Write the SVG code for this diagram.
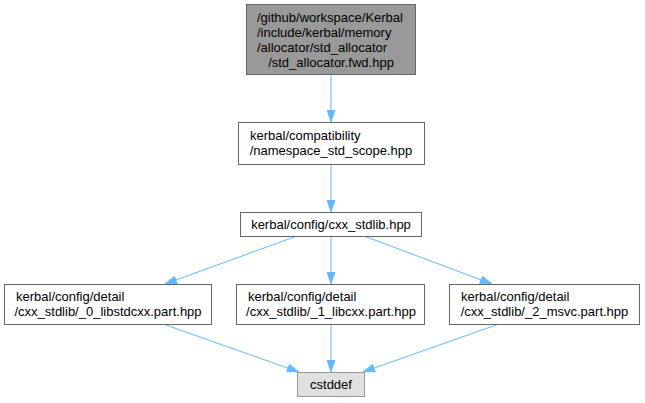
<svg xmlns="http://www.w3.org/2000/svg" width="645" height="403" viewBox="0 0 645 403">
<style>
  .node rect { fill: #ffffff; stroke: #666666; stroke-width: 1; }
  .root rect { fill: #999999; stroke: #666666; }
  .sys rect { fill: #e0e0e0; stroke: #999999; }
  text { font-family: "Liberation Sans", Arial, Helvetica, sans-serif; font-size: 13px; fill: #000000; }
  .mid { text-anchor: middle; }
  .edges line { stroke: #63b8ff; stroke-width: 1; fill: none; marker-end: url(#arrow); }
</style>
<defs>
  <marker id="arrow" viewBox="0 0 12 9" refX="12" refY="4.5" markerWidth="12" markerHeight="9" markerUnits="userSpaceOnUse" orient="auto">
    <path d="M0,0.5 L11.5,4.5 L0,8.5 z" fill="#63b8ff" stroke="#63b8ff" stroke-width="1"/>
  </marker>
</defs>
<rect width="645" height="403" fill="#ffffff"/>
<g id="edges" class="edges">
  <line x1="331" y1="74" x2="331" y2="122"/>
  <line x1="331" y1="165" x2="331" y2="212"/>
  <line x1="297" y1="236" x2="165" y2="284"/>
  <line x1="331" y1="236" x2="331" y2="284"/>
  <line x1="364" y1="236" x2="492" y2="284"/>
  <line x1="163" y1="324" x2="299" y2="372"/>
  <line x1="331" y1="324" x2="331" y2="372"/>
  <line x1="499" y1="324" x2="363" y2="372"/>
</g>
<g id="node1" class="node root">
  <rect x="246.5" y="4.5" width="169" height="70"/>
  <text x="257" y="22">/github/workspace/Kerbal</text>
  <text x="257" y="37">/include/kerbal/memory</text>
  <text x="257" y="52">/allocator/std_allocator</text>
  <text x="331" y="67" class="mid">/std_allocator.fwd.hpp</text>
</g>
<g id="node2" class="node">
  <rect x="238.5" y="122.5" width="186" height="42"/>
  <text x="250" y="140">kerbal/compatibility</text>
  <text x="331" y="155" class="mid">/namespace_std_scope.hpp</text>
</g>
<g id="node3" class="node">
  <rect x="240.5" y="212.5" width="181" height="24"/>
  <text x="331" y="229" class="mid">kerbal/config/cxx_stdlib.hpp</text>
</g>
<g id="node4" class="node">
  <rect x="4.5" y="284.5" width="207" height="40"/>
  <text x="16" y="301">kerbal/config/detail</text>
  <text x="108" y="316" class="mid">/cxx_stdlib/_0_libstdcxx.part.hpp</text>
</g>
<g id="node5" class="node">
  <rect x="236.5" y="284.5" width="188" height="40"/>
  <text x="248" y="301">kerbal/config/detail</text>
  <text x="331" y="316" class="mid">/cxx_stdlib/_1_libcxx.part.hpp</text>
</g>
<g id="node6" class="node">
  <rect x="449.5" y="284.5" width="190" height="40"/>
  <text x="461" y="301">kerbal/config/detail</text>
  <text x="544.5" y="316" class="mid">/cxx_stdlib/_2_msvc.part.hpp</text>
</g>
<g id="node7" class="node sys">
  <rect x="297.5" y="372.5" width="67" height="24"/>
  <text x="331" y="389" class="mid">cstddef</text>
</g>
</svg>
